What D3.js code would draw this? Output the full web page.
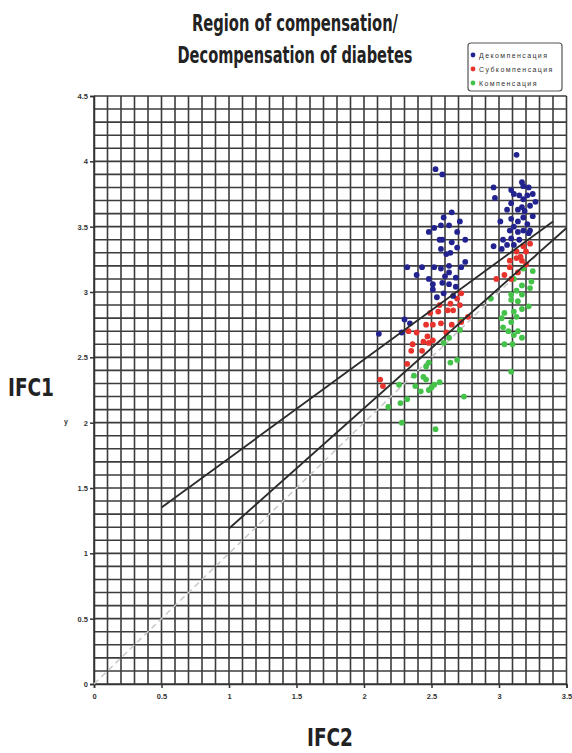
<!DOCTYPE html>
<html><head><meta charset="utf-8">
<script src="https://cdn.jsdelivr.net/npm/d3@7"></script>
<style>body{margin:0;background:#fff}svg{display:block}</style>
</head><body>
<script>
const seriesNames = ["Декомпенсация", "Субкомпенсация", "Компенсация"];
const seriesColors = ["#23238f", "#e8322c", "#44c24a"];
const xTickValues = [0, 0.5, 1, 1.5, 2, 2.5, 3, 3.5];
const xTickLabels = ["0", "0.5", "1", "1.5", "2", "2.5", "3", "3.5"];
const yTickValues = [0, 0.5, 1, 1.5, 2, 2.5, 3, 3.5, 4, 4.5];
const yTickLabels = ["0", "0.5", "1", "1.5", "2", "2.5", "3", "3.5", "4", "4.5"];

const decompX = [2.53,2.58,2.65,2.59,2.71,2.57,2.63,2.52,2.48,2.69,2.56,2.58,2.65,2.75,2.69,2.57,2.64,2.61,2.32,2.43,2.52,2.57,2.63,2.75,2.72,2.39,2.63,2.60,2.48,2.68,2.51,2.58,2.63,2.51,2.59,2.54,2.68,2.66,2.30,2.34,2.28,2.11,
  3.13,2.96,2.97,3.09,3.17,3.18,3.22,3.11,3.15,3.21,3.25,3.18,3.09,3.17,3.23,3.27,3.06,3.14,3.19,3.25,3.01,3.09,3.14,3.18,3.11,3.21,3.08,3.14,3.18,3.22,3.03,3.09,3.15,2.96,3.06,3.02,3.11,3.23];
const decompY = [3.94,3.90,3.61,3.57,3.54,3.51,3.51,3.49,3.46,3.46,3.40,3.40,3.38,3.40,3.34,3.33,3.30,3.29,3.19,3.19,3.19,3.18,3.20,3.23,3.19,3.13,3.15,3.12,3.10,3.11,3.06,3.07,3.06,3.02,2.99,2.96,3.04,2.97,2.79,2.76,2.69,2.68,
  4.05,3.80,3.72,3.78,3.84,3.81,3.80,3.75,3.74,3.74,3.75,3.71,3.68,3.65,3.66,3.69,3.63,3.63,3.62,3.58,3.54,3.56,3.54,3.57,3.50,3.52,3.47,3.46,3.47,3.45,3.40,3.41,3.40,3.35,3.36,3.33,3.36,3.47];

const subX = [2.72,2.69,2.64,2.56,2.71,2.62,2.66,2.55,2.49,2.77,2.51,2.57,2.46,2.65,2.72,2.33,2.39,2.61,2.47,2.51,2.44,2.36,2.48,2.35,2.43,2.32,2.12,2.14,
  3.23,3.18,3.13,3.20,3.16,3.08,3.13,3.17,3.20,3.08,3.04,2.98,3.09,3.14];
const subY = [2.99,2.95,2.91,2.90,2.90,2.86,2.86,2.85,2.84,2.81,2.75,2.76,2.75,2.75,2.77,2.70,2.69,2.69,2.66,2.63,2.62,2.60,2.61,2.55,2.55,2.45,2.33,2.28,
  3.37,3.35,3.31,3.31,3.27,3.24,3.26,3.24,3.21,3.19,3.13,3.10,3.10,3.15];

const compX = [2.72,2.71,2.63,2.59,2.69,2.64,2.48,2.46,2.37,2.44,2.46,2.56,2.38,2.50,2.52,2.26,2.42,2.48,2.32,2.27,2.74,2.18,2.28,2.53,
  3.25,3.18,3.11,3.24,3.17,3.23,3.13,3.09,3.17,3.09,3.14,3.22,3.17,3.04,3.11,3.13,3.02,3.09,3.03,3.07,3.14,3.11,3.17,3.04,3.10,3.09,2.94];
const compY = [2.78,2.71,2.65,2.61,2.48,2.46,2.46,2.43,2.36,2.35,2.33,2.31,2.28,2.27,2.29,2.29,2.24,2.25,2.18,2.15,2.20,2.12,2.00,1.95,
  3.16,3.18,3.10,3.08,3.05,3.03,3.01,2.98,2.98,2.94,2.93,2.89,2.87,2.84,2.85,2.81,2.80,2.77,2.73,2.70,2.70,2.67,2.65,2.60,2.60,2.39,2.95];

const upperLineX = [0.5, 3.4];
const upperLineY = [1.35, 3.54];
const lowerLineX = [1.0, 3.5];
const lowerLineY = [1.19, 3.49];
const diagX = [0, 3.3];
const diagY = [0, 3.3];

const W = 572, H = 753;
const svg = d3.select("body").append("svg").attr("width", W).attr("height", H);
const x = d3.scaleLinear().domain([0, 3.5]).range([94, 566.5]);
const y = d3.scaleLinear().domain([0, 4.5]).range([684, 96]);

// grid
const g = svg.append("g");
const vx = d3.range(0, 36).map(i => i / 10);
const hy = d3.range(0, 46).map(i => i / 10);
g.selectAll("line.v").data(vx).join("line")
  .attr("x1", d => x(d)).attr("x2", d => x(d)).attr("y1", y(0)).attr("y2", y(4.5))
  .attr("stroke", "#3c3c3c").attr("stroke-width", 1.6);
g.selectAll("line.h").data(hy).join("line")
  .attr("y1", d => y(d)).attr("y2", d => y(d)).attr("x1", x(0)).attr("x2", x(3.5))
  .attr("stroke", "#3c3c3c").attr("stroke-width", 1.6);

// axes
const xAxis = d3.axisBottom(x).tickValues(xTickValues).tickFormat((d, i) => xTickLabels[i]).tickSize(4).tickPadding(6);
const yAxis = d3.axisLeft(y).tickValues(yTickValues).tickFormat((d, i) => yTickLabels[i]).tickSize(4).tickPadding(2);
const ax = svg.append("g").attr("transform", `translate(0,${y(0)})`).call(xAxis);
const ay = svg.append("g").attr("transform", `translate(${x(0)},0)`).call(yAxis);
[ax, ay].forEach(a => {
  a.select(".domain").attr("stroke", "#333").attr("stroke-width", 1.5);
  a.selectAll(".tick line").attr("stroke", "#333").attr("stroke-width", 1.5);
  a.selectAll("text").attr("font-family", "Arial, 'Liberation Sans', sans-serif").attr("font-size", 7.5).attr("fill", "#333").attr("font-weight", "bold");
});

// diagonal dashed
const line = d3.line().x(d => x(d[0])).y(d => y(d[1]));
svg.append("path").datum(diagX.map((v, i) => [v, diagY[i]])).attr("d", line)
  .attr("stroke", "#c8c8c8").attr("stroke-width", 1.5).attr("stroke-dasharray", "6,4").attr("fill", "none");

// points
const series = [[decompX, decompY], [subX, subY], [compX, compY]];
const order = [2, 1, 0];
order.forEach(si => {
  const [xs, ys] = series[si];
  svg.append("g").selectAll("circle").data(xs.map((v, i) => [v, ys[i]])).join("circle")
    .attr("cx", d => x(d[0])).attr("cy", d => y(d[1])).attr("r", 2.9)
    .attr("fill", seriesColors[si]);
});

// solid lines
svg.append("path").datum(upperLineX.map((v, i) => [v, upperLineY[i]])).attr("d", line)
  .attr("stroke", "#2a2a2a").attr("stroke-width", 1.8).attr("fill", "none");
svg.append("path").datum(lowerLineX.map((v, i) => [v, lowerLineY[i]])).attr("d", line)
  .attr("stroke", "#2a2a2a").attr("stroke-width", 1.8).attr("fill", "none");

// title
const tf = "'Liberation Sans Narrow', 'DejaVu Sans Condensed', 'Open Sans', sans-serif";
svg.append("text").attr("transform", "translate(295,31) scale(1,1.3)").attr("text-anchor", "middle")
  .attr("font-family", tf).attr("font-weight", "bold").attr("font-size", 17).attr("fill", "#222")
  .attr("textLength", 206).attr("lengthAdjust", "spacingAndGlyphs").text("Region of compensation/");
svg.append("text").attr("transform", "translate(295,63) scale(1,1.3)").attr("text-anchor", "middle")
  .attr("font-family", tf).attr("font-weight", "bold").attr("font-size", 17).attr("fill", "#222")
  .attr("textLength", 235).attr("lengthAdjust", "spacingAndGlyphs").text("Decompensation of diabetes");

// axis titles
svg.append("text").attr("x", 8).attr("y", 396)
  .attr("font-family", tf).attr("font-weight", "bold").attr("font-size", 25).attr("fill", "#222")
  .attr("textLength", 46).attr("lengthAdjust", "spacingAndGlyphs").text("IFC1");
svg.append("text").attr("x", 307).attr("y", 746)
  .attr("font-family", tf).attr("font-weight", "bold").attr("font-size", 24).attr("fill", "#222")
  .attr("textLength", 46).attr("lengthAdjust", "spacingAndGlyphs").text("IFC2");
svg.append("text").attr("x", 66).attr("y", 424).attr("text-anchor", "middle")
  .attr("font-family", "Arial, sans-serif").attr("font-size", 7).attr("font-weight", "bold").attr("fill", "#333").text("у");

// legend
const lg = svg.append("g");
lg.append("rect").attr("x", 468).attr("y", 43).attr("width", 94).attr("height", 48).attr("rx", 3)
  .attr("fill", "#fff").attr("stroke", "#555").attr("stroke-width", 1.2);
seriesNames.forEach((n, i) => {
  const yy = 55 + i * 14;
  lg.append("circle").attr("cx", 473).attr("cy", yy).attr("r", 2.4).attr("fill", seriesColors[i]);
  lg.append("text").attr("x", 479).attr("y", yy + 2.5).attr("font-family", "Arial, 'Liberation Sans', sans-serif")
    .attr("font-size", 7).attr("fill", "#333").attr("letter-spacing", 1.4).text(n);
});
</script>
</body></html>
